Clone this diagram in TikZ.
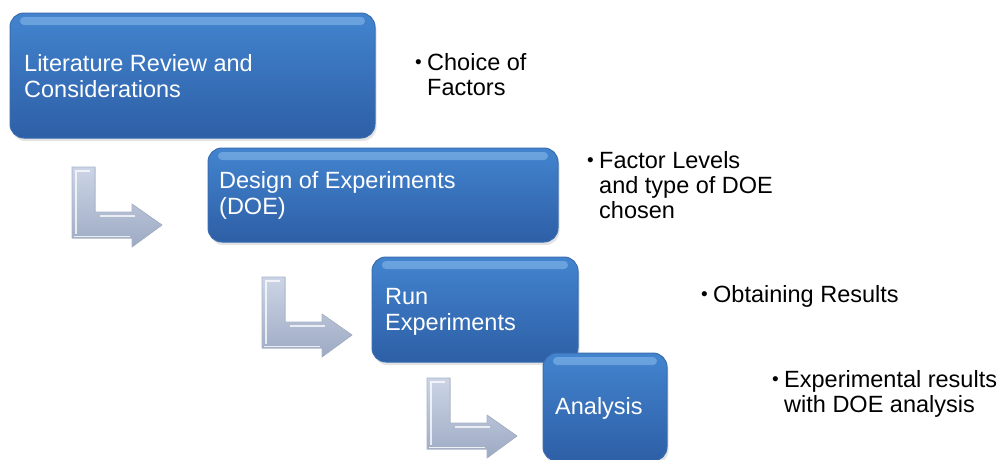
\documentclass[tikz,border=0pt]{standalone}
\usepackage{fontspec}
\setmainfont{Liberation Sans}
\usetikzlibrary{shadows}
\definecolor{boxtop}{HTML}{4384CF}
\definecolor{boxbot}{HTML}{2D5FA6}
\definecolor{boxedge}{HTML}{3A6CB0}
\definecolor{glosscol}{HTML}{9CCBF5}
\definecolor{arrtop}{HTML}{CCD5E6}
\definecolor{arrbot}{HTML}{9DAAC3}
\definecolor{arredge}{HTML}{A7B3C9}
\begin{document}
\begin{tikzpicture}[x=1pt,y=-1pt,
  box/.style={rounded corners=14pt, top color=boxtop, bottom color=boxbot, draw=boxedge, line width=1pt,
    anchor=north west, inner sep=0pt, outer sep=0pt,
    drop shadow={opacity=0.22, shadow xshift=1.5pt, shadow yshift=-3pt}},
  gloss/.style={rounded corners=4pt, fill=glosscol, opacity=0.45},
  boxtxt/.style={anchor=base west, inner sep=0pt, text=white, align=left,
    font=\fontsize{23.5}{26}\selectfont},
  bultxt/.style={anchor=base west, inner sep=0pt, text=black, align=left,
    font=\fontsize{23.5}{25}\selectfont},
  larrow/.style={top color=arrtop, bottom color=arrbot, draw=arredge, line width=0.6pt},
  bevel/.style={draw=white, line width=1.6pt, opacity=0.75}]
\useasboundingbox (0,0) rectangle (1004,459);
\newcommand{\blt}{\makebox[12pt][l]{\raisebox{1.5pt}{\fontsize{19}{19}\selectfont\textbullet}}}
% L arrows
\foreach \dx/\dy [count=\i] in {0/0,190/110,355/211}{
  \begin{scope}[shift={(\dx,\dy)}]
    \filldraw[larrow] (72,167) -- (95,167) -- (95,212) -- (132,212) -- (132,204)
      -- (162,225) -- (132,247) -- (132,238) -- (72,238) -- cycle;
    \draw[bevel] (76,234) -- (76,171) -- (90,171);
    \draw[bevel] (100,216) -- (135,216);
    \draw[draw=white, line width=1pt, opacity=0.8] (74,236) -- (130,236);
    \coordinate (tip\i) at (162,225);
  \end{scope}
}
% boxes
\node[box, minimum width=365pt, minimum height=125pt] (b1) at (10,13) {};
\fill[gloss] ([xshift=10pt,yshift=-4pt]b1.north west) rectangle ([xshift=-10pt,yshift=-12pt]b1.north east);
\node[box, minimum width=350pt, minimum height=94pt] (b2) at (208,148) {};
\fill[gloss] ([xshift=10pt,yshift=-4pt]b2.north west) rectangle ([xshift=-10pt,yshift=-12pt]b2.north east);
\node[box, minimum width=206pt, minimum height=105pt] (b3) at (372,257) {};
\fill[gloss] ([xshift=10pt,yshift=-4pt]b3.north west) rectangle ([xshift=-10pt,yshift=-12pt]b3.north east);
\node[box, minimum width=124pt, minimum height=108pt] (b4) at (543,353) {};
\fill[gloss] ([xshift=10pt,yshift=-4pt]b4.north west) rectangle ([xshift=-10pt,yshift=-12pt]b4.north east);
% box texts (base = baseline of last line)
\node[boxtxt] (t1) at (24,97) {Literature Review and\\Considerations};
\node[boxtxt] (t2) at (219,214) {Design of Experiments\\(DOE)};
\node[boxtxt] (t3) at (385,330) {Run\\Experiments};
\node[boxtxt] (t4) at (555,414) {Analysis};
% bullet texts
\node[bultxt] (n1) at (415,95) {\blt Choice of\\\hspace*{12pt}Factors};
\node[bultxt] (n2) at (587,218) {\blt Factor Levels\\\hspace*{12pt}and type of DOE\\\hspace*{12pt}chosen};
\node[bultxt] (n3) at (701,302) {\blt Obtaining Results};
\node[bultxt] (n4) at (772,412) {\blt Experimental results\\\hspace*{12pt}with DOE analysis};
\end{tikzpicture}
\end{document}
